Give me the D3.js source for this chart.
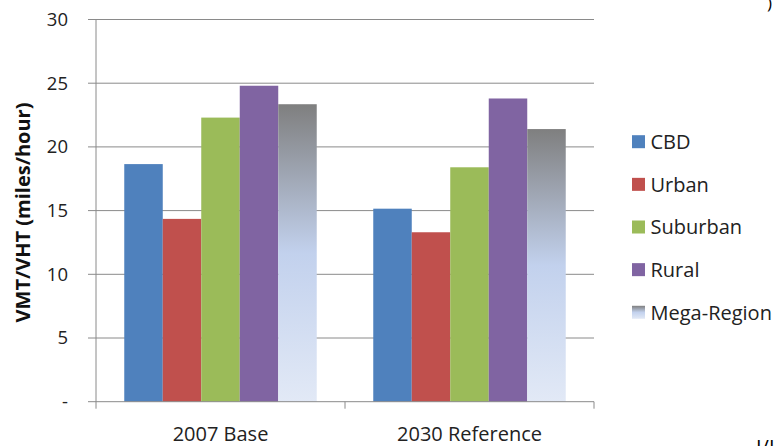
<!DOCTYPE html>
<html><head><meta charset="utf-8">
<script src="https://cdn.jsdelivr.net/npm/d3@7"></script>
<style>body{margin:0;background:#fff}svg{display:block}text{font-family:"Open Sans",sans-serif}</style>
</head><body><svg id="c" width="777" height="446"></svg>
<script>
const categories = ["2007 Base", "2030 Reference"];
const seriesNames = ["CBD", "Urban", "Suburban", "Rural", "Mega-Region"];
const CBD = [18.65, 15.15];
const Urban = [14.35, 13.3];
const Suburban = [22.3, 18.4];
const Rural = [24.8, 23.8];
const MegaRegion = [23.35, 21.4];
const yTicks = [0, 5, 10, 15, 20, 25, 30];
const yTickLabels = ["-", "5", "10", "15", "20", "25", "30"];
const colors = ["#4F81BD", "#C0504D", "#9BBB59", "#8064A2", "url(#megaGrad)"];

const values = [CBD, Urban, Suburban, Rural, MegaRegion];
const svg = d3.select("#c");
const defs = svg.append("defs");
const g1 = defs.append("linearGradient").attr("id", "megaGrad").attr("x1", 0).attr("y1", 0).attr("x2", 0).attr("y2", 1);
g1.append("stop").attr("offset", "0%").attr("stop-color", "#7f7f7f");
g1.append("stop").attr("offset", "50%").attr("stop-color", "#c2d1ed");
g1.append("stop").attr("offset", "100%").attr("stop-color", "#e2e9f6");

const L = 96, R = 594, T = 19.5, B = 401.7;
const x = d3.scaleBand().domain(categories).range([L, R]);
const xs = d3.scaleBand().domain(seriesNames).range([0, x.bandwidth()]).paddingOuter(0.734).paddingInner(0);
const y = d3.scaleLinear().domain([0, 30]).range([B, T]);

// gridlines
svg.append("g").selectAll("line").data(yTicks.slice(1)).join("line")
  .attr("x1", L - 8).attr("x2", R).attr("y1", d => y(d)).attr("y2", d => y(d))
  .attr("stroke", "#8a8a8a").attr("stroke-width", 1);

// bars
const groups = svg.append("g").selectAll("g").data(categories).join("g")
  .attr("transform", c => `translate(${x(c)},0)`);
groups.selectAll("rect").data((c, i) => seriesNames.map((s, j) => ({s, j, v: values[j][i]}))).join("rect")
  .attr("x", d => xs(d.s)).attr("width", xs.bandwidth())
  .attr("y", d => y(d.v)).attr("height", d => y(0) - y(d.v))
  .attr("fill", d => colors[d.j]);

// axes lines
svg.append("line").attr("x1", L - 8).attr("x2", R).attr("y1", B).attr("y2", B).attr("stroke", "#8a8a8a");
svg.append("line").attr("x1", L).attr("x2", L).attr("y1", T).attr("y2", B).attr("stroke", "#8a8a8a");
svg.append("g").selectAll("line").data([L, L + x.bandwidth(), R]).join("line")
  .attr("x1", d => d).attr("x2", d => d).attr("y1", B).attr("y2", B + 7).attr("stroke", "#8a8a8a");

// y tick labels
svg.append("g").selectAll("text").data(yTicks).join("text")
  .attr("x", 68).attr("y", d => y(d)).attr("dy", "0.35em").attr("text-anchor", "end")
  .attr("font-size", 18.5).attr("fill", "#222").text((d, i) => yTickLabels[i]);

// x labels
svg.append("g").selectAll("text").data(categories).join("text")
  .attr("x", c => x(c) + x.bandwidth() / 2).attr("y", 441).attr("text-anchor", "middle")
  .attr("font-size", 20).attr("fill", "#222").text(c => c);

// y title
svg.append("text").attr("transform", "translate(30,212.5) rotate(-90)").attr("text-anchor", "middle")
  .attr("font-size", 20).attr("font-weight", "bold").attr("fill", "#111").text("VMT/VHT (miles/hour)");

// legend
const lg = svg.append("g").selectAll("g").data(seriesNames).join("g")
  .attr("transform", (d, i) => `translate(632,${141.7 + i * 42.65})`);
lg.append("rect").attr("x", 0).attr("y", -6.5).attr("width", 13).attr("height", 13).attr("fill", (d, i) => colors[i]);
lg.append("text").attr("x", 18.5).attr("dy", "0.36em").attr("font-size", 20).attr("fill", "#222").text(d => d);

// cropped fragments at the edges
svg.append("text").attr("x", 767).attr("y", 9).attr("font-size", 17).attr("fill", "#000").text(")");
svg.append("text").attr("x", 756).attr("y", 454).attr("font-size", 20).attr("fill", "#000").text("I/I");
</script></body></html>
